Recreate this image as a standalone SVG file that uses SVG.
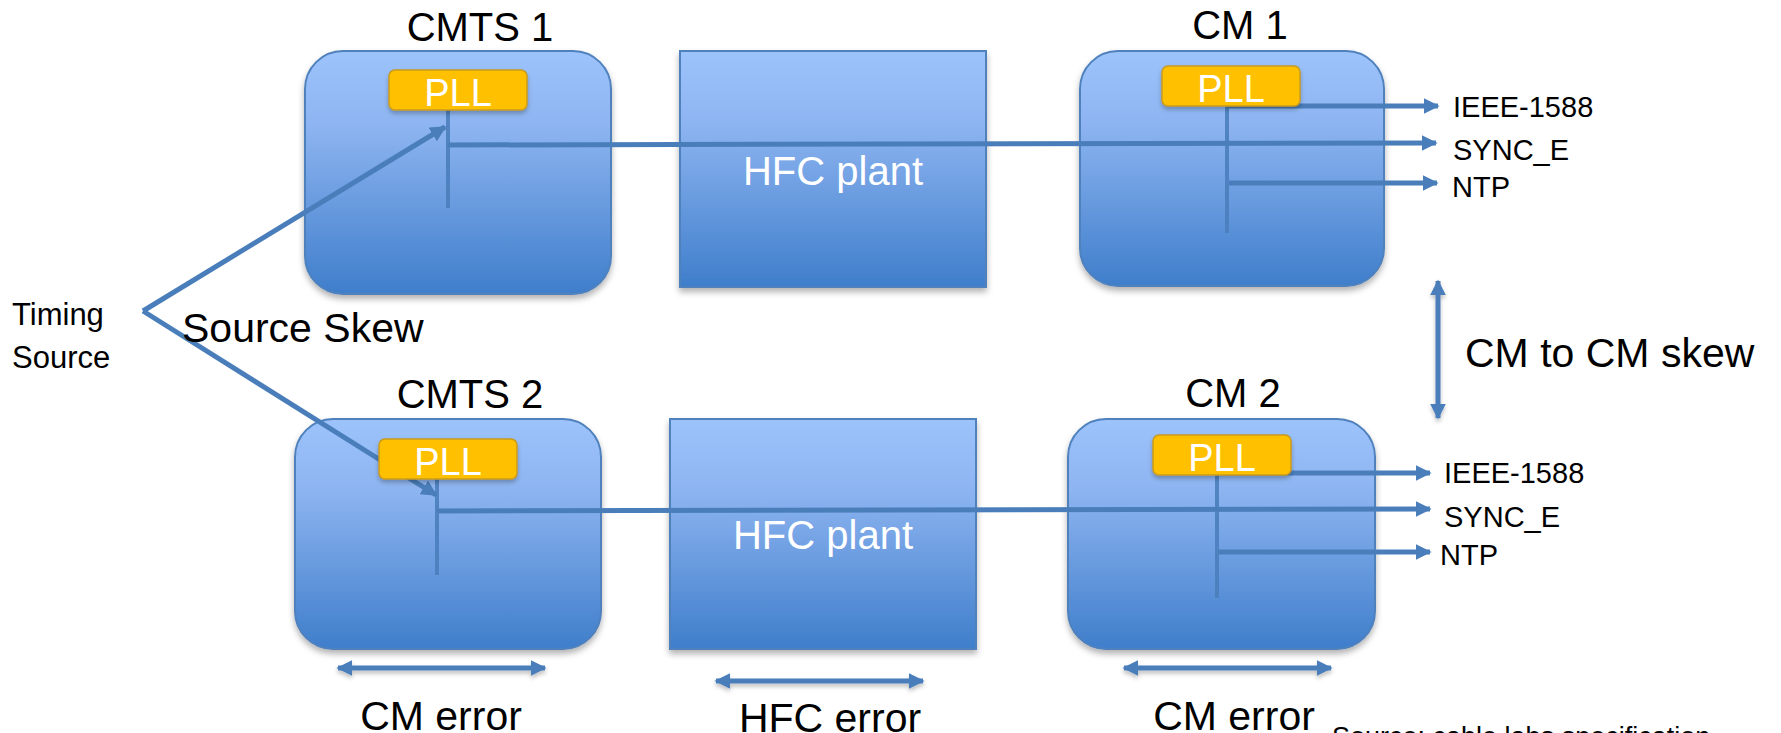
<svg xmlns="http://www.w3.org/2000/svg" width="1781" height="733" viewBox="0 0 1781 733">
  <defs>
    <linearGradient id="boxFill" x1="0" y1="0" x2="0" y2="1">
      <stop offset="0" stop-color="#9DC3FC"/>
      <stop offset="0.3" stop-color="#8EB5F1"/>
      <stop offset="1" stop-color="#3F7ECB"/>
    </linearGradient>
    <filter id="shadow" x="-10%" y="-10%" width="120%" height="125%">
      <feDropShadow dx="0" dy="4" stdDeviation="3" flood-color="#000" flood-opacity="0.3"/>
    </filter>
    <filter id="softShadow" x="-10%" y="-50%" width="120%" height="250%">
      <feDropShadow dx="0" dy="3" stdDeviation="2" flood-color="#000" flood-opacity="0.25"/>
    </filter>
    <!-- user-space region so zero-height lines still render -->
    <filter id="lineShadow" filterUnits="userSpaceOnUse" x="0" y="0" width="1781" height="733">
      <feDropShadow dx="0" dy="3" stdDeviation="2" flood-color="#000" flood-opacity="0.25"/>
    </filter>
    <marker id="arrow" viewBox="0 0 10 10" refX="9" refY="5" markerUnits="userSpaceOnUse" markerWidth="16" markerHeight="16" orient="auto">
      <path d="M0,0 L10,5 L0,10 Z" fill="#4A7EBB"/>
    </marker>
    <marker id="arrowStart" viewBox="0 0 10 10" refX="1" refY="5" markerUnits="userSpaceOnUse" markerWidth="16" markerHeight="16" orient="auto">
      <path d="M10,0 L0,5 L10,10 Z" fill="#4A7EBB"/>
    </marker>
  </defs>
  <style>
    .box { fill: url(#boxFill); stroke: #4F81BD; stroke-width: 2; filter: url(#shadow); }
    .pll { fill: #FFC000; stroke: #C99A1A; stroke-width: 1.5; filter: url(#softShadow); }
    .pllText { font-family: "Liberation Sans", Arial, sans-serif; font-size: 38px; fill: #FFFFFF; text-anchor: middle; }
    .title { font-family: "Liberation Sans", Arial, sans-serif; font-size: 40px; fill: #000000; text-anchor: middle; }
    .inner { font-family: "Liberation Sans", Arial, sans-serif; font-size: 40px; fill: #FFFFFF; text-anchor: middle; }
    .out { font-family: "Liberation Sans", Arial, sans-serif; font-size: 29px; fill: #000000; }
    .big { font-family: "Liberation Sans", Arial, sans-serif; font-size: 41px; fill: #000000; }
    .small { font-family: "Liberation Sans", Arial, sans-serif; font-size: 31px; fill: #000000; }
    .note { font-family: "Liberation Sans", Arial, sans-serif; font-size: 27px; fill: #000000; }
    .wire { stroke: #4A7EBB; stroke-width: 5; fill: none; }
    .stem { stroke: #4A7EBB; stroke-width: 4; fill: none; stroke-opacity: 0.9; }
    .arr { stroke: #4A7EBB; stroke-width: 5; fill: none; marker-end: url(#arrow); }
    .dbl { stroke: #4A7EBB; stroke-width: 5; fill: none; marker-end: url(#arrow); marker-start: url(#arrowStart); filter: url(#lineShadow); }
  </style>

  <rect width="1781" height="733" fill="#FFFFFF"/>

  <!-- Top row -->
  <g id="cmts1">
    <rect class="box" x="305" y="51" width="306" height="243" rx="38"/>
    <text class="title" x="480" y="41">CMTS 1</text>
  </g>
  <g id="hfc1">
    <rect class="box" x="680" y="51" width="306" height="236"/>
    <text class="inner" x="833" y="185">HFC plant</text>
  </g>
  <g id="cm1">
    <rect class="box" x="1080" y="51" width="304" height="235" rx="38"/>
    <text class="title" x="1240" y="39">CM 1</text>
  </g>

  <!-- Bottom row -->
  <g id="cmts2">
    <rect class="box" x="295" y="419" width="306" height="230" rx="38"/>
    <text class="title" x="470" y="408">CMTS 2</text>
  </g>
  <g id="hfc2">
    <rect class="box" x="670" y="419" width="306" height="230"/>
    <text class="inner" x="823" y="549">HFC plant</text>
  </g>
  <g id="cm2">
    <rect class="box" x="1068" y="419" width="307" height="230" rx="38"/>
    <text class="title" x="1233" y="407">CM 2</text>
  </g>

  <!-- Timing paths and outputs -->
  <g id="connectors">
    <!-- timing source feeds -->
    <line class="arr" x1="143" y1="311" x2="445" y2="127"/>
    <line class="arr" x1="143" y1="311" x2="436" y2="495"/>

    <!-- upper chain -->
    <line class="stem" x1="448" y1="110" x2="448" y2="208"/>
    <line class="arr" x1="448" y1="145" x2="1436" y2="143"/>
    <line class="stem" x1="1227" y1="106" x2="1227" y2="233"/>
    <line class="arr" x1="1227" y1="106" x2="1438" y2="106"/>
    <line class="arr" x1="1229" y1="183" x2="1437" y2="183"/>

    <!-- lower chain -->
    <line class="stem" x1="437" y1="479" x2="437" y2="575"/>
    <line class="arr" x1="437" y1="511" x2="1430" y2="509"/>
    <line class="stem" x1="1217" y1="475" x2="1217" y2="598"/>
    <line class="arr" x1="1217" y1="473" x2="1430" y2="473"/>
    <line class="arr" x1="1219" y1="552" x2="1430" y2="552"/>

    <!-- skew and error spans -->
    <line class="dbl" x1="1438" y1="281" x2="1438" y2="418"/>
    <line class="dbl" x1="338" y1="668" x2="545" y2="668"/>
    <line class="dbl" x1="716" y1="681" x2="923" y2="681"/>
    <line class="dbl" x1="1124" y1="668" x2="1331" y2="668"/>
  </g>

  <!-- Phase-locked loops -->
  <g id="pll-cmts1">
    <rect class="pll" x="389" y="70" width="138" height="40" rx="6"/>
    <text class="pllText" x="458" y="106">PLL</text>
  </g>
  <g id="pll-cm1">
    <rect class="pll" x="1162" y="66" width="138" height="40" rx="6"/>
    <text class="pllText" x="1231" y="102">PLL</text>
  </g>
  <g id="pll-cmts2">
    <rect class="pll" x="379" y="439" width="138" height="40" rx="6"/>
    <text class="pllText" x="448" y="475">PLL</text>
  </g>
  <g id="pll-cm2">
    <rect class="pll" x="1153" y="435" width="138" height="40" rx="6"/>
    <text class="pllText" x="1222" y="471">PLL</text>
  </g>

  <!-- Output labels -->
  <g id="outputs1">
    <text class="out" x="1453" y="117">IEEE-1588</text>
    <text class="out" x="1453" y="160">SYNC_E</text>
    <text class="out" x="1452" y="197">NTP</text>
  </g>
  <g id="outputs2">
    <text class="out" x="1444" y="483">IEEE-1588</text>
    <text class="out" x="1444" y="527">SYNC_E</text>
    <text class="out" x="1440" y="565">NTP</text>
  </g>

  <g id="timing-source">
    <text class="small" x="12" y="325">Timing</text>
    <text class="small" x="12" y="368">Source</text>
  </g>
  <text class="big" x="182" y="342">Source Skew</text>
  <text class="big" x="1465" y="367">CM to CM skew</text>

  <text class="big" x="441" y="730" text-anchor="middle">CM error</text>
  <text class="big" x="830" y="732" text-anchor="middle">HFC error</text>
  <text class="big" x="1234" y="730" text-anchor="middle">CM error</text>
  <text class="note" x="1332" y="746">Source: cable labs specification</text>
</svg>
